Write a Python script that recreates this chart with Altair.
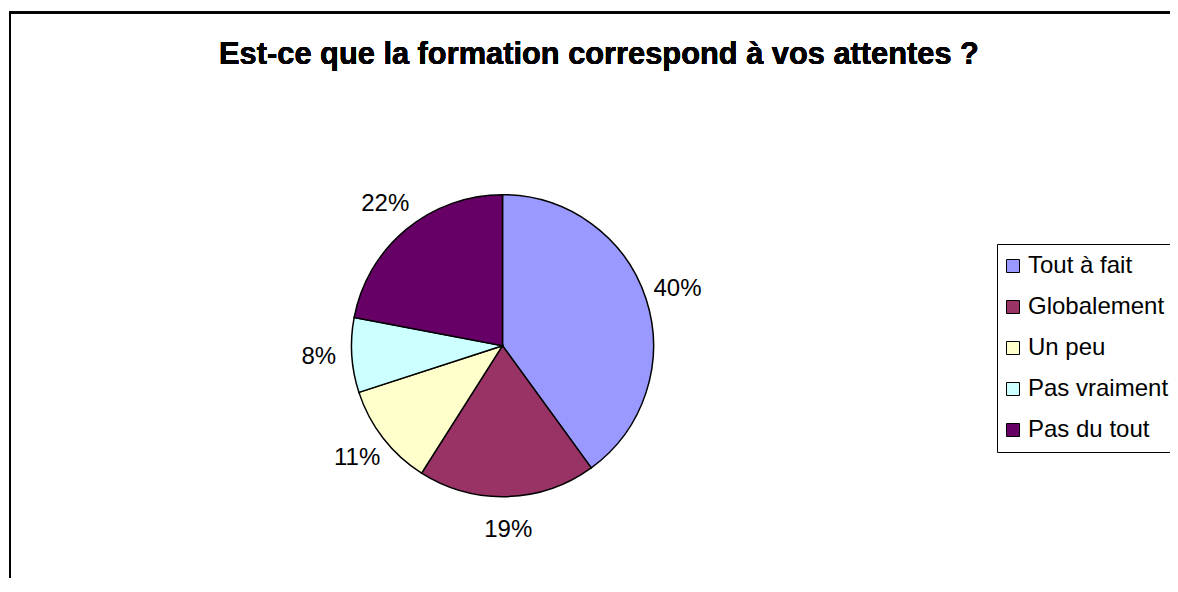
import altair as alt
import pandas as pd

TITLE = "Est-ce que la formation correspond à vos attentes ?"
categories = ["Tout à fait", "Globalement", "Un peu", "Pas vraiment", "Pas du tout"]
values = [40, 19, 11, 8, 22]
colors = ["#9999FF", "#993366", "#FFFFCC", "#CCFFFF", "#660066"]

df = pd.DataFrame({
    "cat": categories,
    "val": values,
    "idx": list(range(len(categories))),
})
df["label"] = [f"{v}%" for v in values]

FONT = "Liberation Sans"
CX, CY, R = 494.5, 337.7, 151

base = alt.Chart(df).encode(
    theta=alt.Theta("val:Q", stack=True),
    order=alt.Order("idx:Q", sort="ascending"),
)

pie = base.mark_arc(outerRadius=R, stroke="black", strokeWidth=1.5).encode(
    x=alt.value(CX),
    y=alt.value(CY),
    color=alt.Color(
        "cat:N",
        scale=alt.Scale(domain=categories, range=colors),
        sort=categories,
        legend=alt.Legend(
            title=None,
            orient="none",
            legendX=989,
            legendY=236,
            strokeColor="black",
            fillColor="white",
            padding=10,
            labelFont=FONT,
            labelFontSize=24,
            labelColor="black",
            labelOffset=3,
            symbolOffset=-6,
            symbolType="square",
            symbolSize=169,
            symbolStrokeColor="black",
            symbolStrokeWidth=1,
            rowPadding=17,
        ),
    ),
)

labels = base.mark_text(
    radius=184, font=FONT, fontSize=24, color="black", align="center", baseline="middle"
).encode(
    x=alt.value(CX),
    y=alt.value(CY),
    text="label:N",
)

title = alt.Chart(df).mark_text(
    text=TITLE, font=FONT, fontSize=30.8, fontWeight="bold", color="black",
    align="center", baseline="alphabetic",
).encode(x=alt.value(591), y=alt.value(56))

border_left = alt.Chart(df).mark_rule(color="black", strokeWidth=2).encode(
    x=alt.value(2), y=alt.value(3.5), y2=alt.value(700)
)
border_top = alt.Chart(df).mark_rule(color="black", strokeWidth=2).encode(
    x=alt.value(1), x2=alt.value(1300), y=alt.value(4.5)
)

chart = alt.layer(pie, labels, title, border_left, border_top).properties(
    width=1162,
    height=570,
    padding=0,
    autosize=alt.AutoSizeParams(type="none"),
).configure_view(stroke=None)

chart.save("out.html", embed_options={"renderer": "svg", "actions": False})
